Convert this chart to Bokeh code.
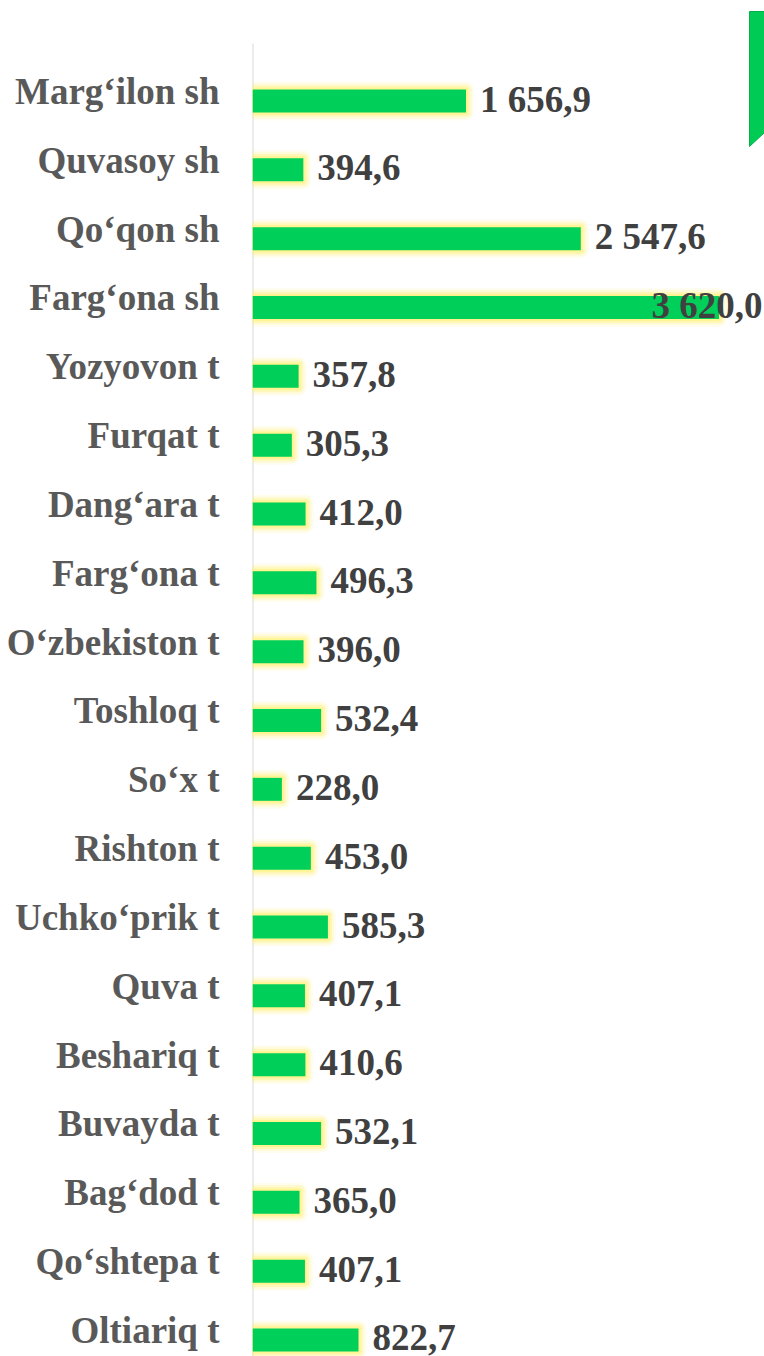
from bokeh.plotting import figure
from bokeh.models import ColumnDataSource, FixedTicker, Range1d
from bokeh.core.properties import value
from bokeh.embed import file_html
from bokeh.resources import INLINE

categories = ["Marg‘ilon sh", "Quvasoy sh", "Qo‘qon sh", "Farg‘ona sh", "Yozyovon t",
              "Furqat t", "Dang‘ara t", "Farg‘ona t", "O‘zbekiston t", "Toshloq t",
              "So‘x t", "Rishton t", "Uchko‘prik t", "Quva t", "Beshariq t",
              "Buvayda t", "Bag‘dod t", "Qo‘shtepa t", "Oltiariq t"]
values = [1656.9, 394.6, 2547.6, 3620.0, 357.8,
          305.3, 412.0, 496.3, 396.0, 532.4,
          228.0, 453.0, 585.3, 407.1, 410.6,
          532.1, 365.0, 407.1, 822.7]

def fmt(v):
    return f"{v:,.1f}".replace(",", " ").replace(".", ",")

n = len(categories)
ypos = [n - 1 - i for i in range(n)]
labels = [fmt(v) for v in values]

W, H = 764, 1356
LEFT = 252
XMAX = 3973
PX_X = (W - LEFT) / XMAX          # px per x unit
PX_Y = 68.83                      # px per row
Y0 = -16.5 / PX_Y                 # bottom of frame
YTOP = (n - 1) + 100.5 / PX_Y     # top of frame
FONT = "Liberation Serif"

def dx(px):   # screen x -> data x
    return (px - LEFT) / PX_X

def dy(py):   # screen y -> data y
    return YTOP - py / PX_Y

p = figure(width=W, height=H, output_backend="svg", toolbar_location=None,
           x_range=Range1d(0, XMAX), y_range=Range1d(Y0, YTOP),
           min_border_left=LEFT, min_border_right=0, min_border_top=0, min_border_bottom=0)
p.outline_line_color = None
p.grid.visible = False
p.xaxis.visible = False
p.background_fill_color = "white"
p.border_fill_color = "white"

# light gray axis line
p.segment(x0=[0], y0=[Y0], x1=[0], y1=[dy(43)], line_color="#D9D9D9", line_width=2)

src = ColumnDataSource(dict(y=ypos, v=values))

# yellow glow
for lw, a in [(16, 0.12), (12, 0.2), (8, 0.35), (4, 0.6)]:
    p.hbar(y="y", right="v", left=0, height=0.334, source=src, fill_color=None,
           line_color="#FFF27A", line_width=lw, line_alpha=a, line_join="round")
p.hbar(y="y", right="v", left=0, height=0.334, source=src, fill_color="#00D05A",
       line_color=None)

# value labels
inside = [i for i, v in enumerate(values) if v > XMAX * 0.85]
outside = [i for i in range(n) if i not in inside]
s_out = ColumnDataSource(dict(y=[ypos[i] for i in outside], v=[values[i] for i in outside],
                              lab=[labels[i] for i in outside]))
s_in = ColumnDataSource(dict(y=[ypos[i] for i in inside], v=[XMAX for i in inside],
                             lab=[labels[i] for i in inside]))
p.text(x="v", y="y", text="lab", source=s_out, x_offset=14, y_offset=-2,
       text_font=value(FONT), text_font_style="bold", text_font_size="37px",
       text_color="#404040", text_baseline="middle", text_align="left")
p.text(x="v", y="y", text="lab", source=s_in, x_offset=-2, y_offset=-2,
       text_font=value(FONT), text_font_style="bold", text_font_size="37px",
       text_color="#404040", text_baseline="middle", text_align="right")

# category axis
ax = p.yaxis[0]
ticks = [y + 0.14 for y in ypos]
ax.ticker = FixedTicker(ticks=ticks)
ax.major_label_overrides = {t: c for t, c in zip(ticks, categories)}
ax.major_tick_line_color = None
ax.minor_tick_line_color = None
ax.axis_line_color = None
ax.major_label_standoff = 27
ax.major_label_text_font = FONT
ax.major_label_text_font_style = "bold"
ax.major_label_text_font_size = "37px"
ax.major_label_text_color = "#595959"

# decorative green tab top-right
p.patch(x=[dx(749), dx(764), dx(764), dx(749)], y=[dy(11), dy(11), dy(132), dy(146)],
        fill_color="#00CC55", line_color="#00B04A", line_width=1)

open("out.html", "w").write(file_html(p, INLINE))
